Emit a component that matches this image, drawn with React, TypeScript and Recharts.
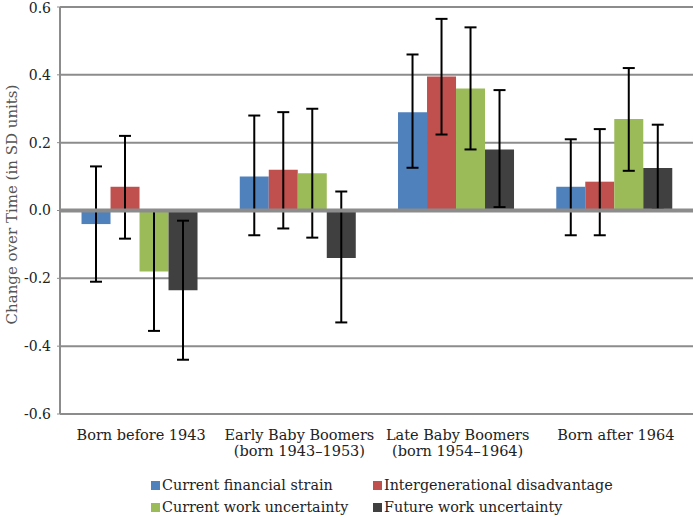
import React from 'react';
import {
  Bar,
  BarChart,
  CartesianGrid,
  ErrorBar,
  ReferenceLine,
  XAxis,
  YAxis,
} from 'recharts';

const cohorts = [
  'Born before 1943',
  'Early Baby Boomers\n(born 1943–1953)',
  'Late Baby Boomers\n(born 1954–1964)',
  'Born after 1964',
];

const seriesNames = [
  'Current financial strain',
  'Intergenerational disadvantage',
  'Current work uncertainty',
  'Future work uncertainty',
];
const seriesColors = ['#4f81bd', '#c0504d', '#9bbb59', '#404040'];

// point estimates per cohort
const financialStrain = [-0.04, 0.1, 0.29, 0.07];
const intergenDisadv = [0.07, 0.12, 0.395, 0.085];
const workUncertainty = [-0.18, 0.11, 0.36, 0.27];
const futureWork = [-0.235, -0.14, 0.18, 0.125];

// confidence interval bounds
const financialLow = [-0.21, -0.073, 0.126, -0.073];
const financialHigh = [0.13, 0.28, 0.46, 0.21];
const intergenLow = [-0.083, -0.053, 0.224, -0.073];
const intergenHigh = [0.22, 0.29, 0.565, 0.24];
const workLow = [-0.355, -0.08, 0.18, 0.117];
const workHigh = [0.0, 0.3, 0.54, 0.42];
const futureLow = [-0.44, -0.33, 0.01, 0.003];
const futureHigh = [-0.03, 0.056, 0.355, 0.253];

const yTicks = [-0.6, -0.4, -0.2, 0, 0.2, 0.4, 0.6];

const values = [financialStrain, intergenDisadv, workUncertainty, futureWork];
const lows = [financialLow, intergenLow, workLow, futureLow];
const highs = [financialHigh, intergenHigh, workHigh, futureHigh];

const data = cohorts.map((name, i) => {
  const row: Record<string, any> = { name };
  values.forEach((vals, s) => {
    row[`s${s}`] = vals[i];
    row[`e${s}`] = [vals[i] - lows[s][i], highs[s][i] - vals[i]];
  });
  return row;
});

const FONT = '"DejaVu Serif", serif';

function CohortTick({ x, y, payload }: any) {
  const lines = String(payload.value).split('\n');
  return (
    <text x={x + 2} y={y} textAnchor="middle" fill="#222" fontSize={14.5} fontFamily={FONT}>
      {lines.map((l, i) => (
        <tspan key={i} x={x + 2} dy={i === 0 ? 18 : 16}>
          {l}
        </tspan>
      ))}
    </text>
  );
}

export default function App() {
  return (
    <div style={{ position: 'absolute', left: 0, top: 0, width: 694, height: 518, background: '#fff' }}>
      <BarChart
        width={694}
        height={518}
        data={data}
        margin={{ top: 7, right: 1, left: 0, bottom: 64 }}
        barCategoryGap="13.6%"
        barGap={0}
      >
        <CartesianGrid vertical={false} stroke="#8c8c8c" strokeWidth={2} />
        <XAxis
          dataKey="name"
          tick={<CohortTick />}
          tickLine={false}
          axisLine={{ stroke: '#8c8c8c', strokeWidth: 2 }}
          height={40}
          interval={0}
        />
        <YAxis
          width={60}
          domain={[-0.6, 0.6]}
          ticks={yTicks}
          tickFormatter={(v) => Number(v).toFixed(1)}
          tick={{ fill: '#222', fontSize: 14, fontFamily: FONT }}
          tickLine={{ stroke: '#8c8c8c' }}
          tickSize={3}
          tickMargin={6}
          axisLine={{ stroke: '#8c8c8c', strokeWidth: 2 }}
          label={{
            value: 'Change over Time (in SD units)',
            angle: -90,
            position: 'insideLeft',
            dx: 7,
            dy: -6,
            style: { textAnchor: 'middle', fill: '#555', fontSize: 15, fontFamily: FONT },
          }}
        />
        {seriesNames.map((n, s) => (
          <Bar key={n} dataKey={`s${s}`} name={n} fill={seriesColors[s]} isAnimationActive={false}>
            <ErrorBar dataKey={`e${s}`} width={6} stroke="#000" strokeWidth={2} direction="y" />
          </Bar>
        ))}
        <ReferenceLine y={0} stroke="#8c8c8c" strokeWidth={4} />
      </BarChart>
      <div
        style={{
          position: 'absolute',
          left: 151,
          top: 474,
          display: 'grid',
          gridTemplateColumns: '222px 280px',
          gridAutoRows: '22px',
          fontFamily: FONT,
          fontSize: 14.3,
          color: '#222',
        }}
      >
        {[0, 1, 2, 3].map((s) => (
          <div key={s} style={{ display: 'flex', alignItems: 'center' }}>
            <span
              style={{ width: 9, height: 9, background: seriesColors[s], marginRight: 2, display: 'inline-block' }}
            />
            {seriesNames[s]}
          </div>
        ))}
      </div>
    </div>
  );
}
